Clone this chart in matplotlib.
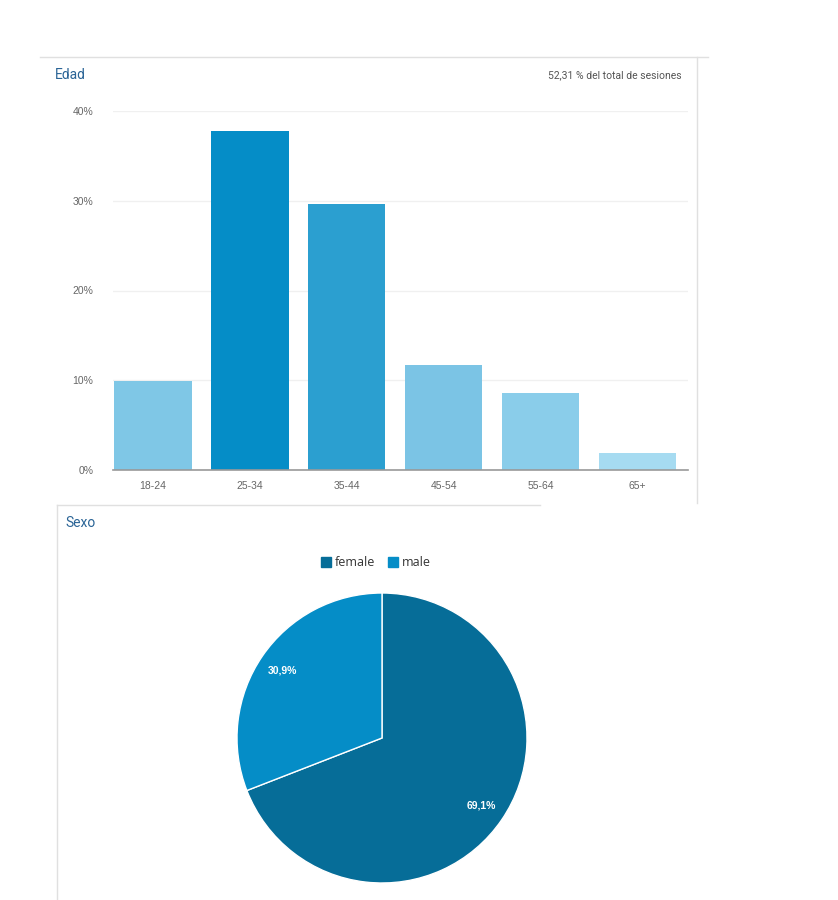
import matplotlib
matplotlib.use("Agg")
import matplotlib.pyplot as plt
from matplotlib.lines import Line2D
from matplotlib.patches import Patch

plt.rcParams['font.family'] = ['Roboto', 'DejaVu Sans']

age_groups = ["18-24", "25-34", "35-44", "45-54", "55-64", "65+"]
age_values = [9.9, 37.8, 29.6, 11.7, 8.6, 1.9]
age_colors = ["#7fc7e6", "#058dc7", "#2b9fd0", "#7bc4e5", "#8acdea", "#a6dbf1"]
y_ticks = [0, 10, 20, 30, 40]
y_tick_labels = ["0%", "10%", "20%", "30%", "40%"]

sex_labels = ["female", "male"]
sex_values = [69.1, 30.9]
sex_colors = ["#066d98", "#058dc7"]

W, H = 838, 900
fig = plt.figure(figsize=(W / 100, H / 100), dpi=100)
fig.patch.set_facecolor("white")

def fx(x):
    return x / W

def fy(y):
    return 1 - y / H

# panel borders
border = "#e0e0e0"
fig.add_artist(Line2D([fx(40), fx(708)], [fy(57), fy(57)], color=border, lw=1))
fig.add_artist(Line2D([fx(697), fx(697)], [fy(57), fy(503)], color=border, lw=1))
fig.add_artist(Line2D([fx(57), fx(540)], [fy(505), fy(505)], color=border, lw=1))
fig.add_artist(Line2D([fx(57), fx(57)], [fy(505), fy(900)], color=border, lw=1))

# titles
fig.text(fx(55), fy(75), "Edad", color="#2a6496", fontsize=10, va="center", ha="left")
fig.text(fx(682), fy(75), "52,31 % del total de sesiones", color="#555555",
         fontsize=7.5, va="center", ha="right")
fig.text(fx(65), fy(523), "Sexo", color="#2a6496", fontsize=10, va="center", ha="left")

tick_font = dict(family=["Liberation Sans", "DejaVu Sans"], size=7.5)

# bar chart
ax = fig.add_axes([fx(113), fy(470), fx(688) - fx(113), (470 - 111) / H])
x = list(range(len(age_groups)))
ax.bar(x, age_values, width=0.8, color=age_colors, zorder=2)
ax.set_xlim(-0.41, 5.52)
ax.set_ylim(0, 40)
ax.set_yticks(y_ticks)
ax.set_yticklabels(y_tick_labels, fontdict=tick_font)
ax.set_xticks(x)
ax.set_xticklabels(age_groups, fontdict=tick_font)
ax.tick_params(axis="both", length=0, labelcolor="#666666")
ax.tick_params(axis="y", pad=14)
ax.tick_params(axis="x", pad=8)
ax.grid(axis="y", color="#f0f0f0", lw=1, zorder=0)
for s in ["top", "right", "left"]:
    ax.spines[s].set_visible(False)
ax.spines["bottom"].set_color("#999999")
ax.spines["bottom"].set_linewidth(1.2)
ax.spines["bottom"].set_zorder(3)

# pie chart
pax = fig.add_axes([fx(237), fy(883), 290 / W, 290 / H])

def fmt(p):
    return ("%.1f%%" % p).replace(".", ",")

wedges, texts, autotexts = pax.pie(
    sex_values, colors=sex_colors, startangle=90, counterclock=False,
    autopct=fmt, pctdistance=0.83,
    wedgeprops=dict(edgecolor="white", linewidth=1),
    textprops=dict(color="white", fontsize=7.5, fontweight="bold",
                   family=["Liberation Sans", "DejaVu Sans"]))
pax.set_xlim(-1, 1)
pax.set_ylim(-1, 1)
pax.set_aspect("auto")
pax.axis("off")

handles = [Patch(facecolor=c, edgecolor=c, label=l) for c, l in zip(sex_colors, sex_labels)]
leg = fig.legend(handles=handles, loc="center", bbox_to_anchor=(fx(376), fy(563)),
                 ncol=2, frameon=False, handlelength=0.8, handleheight=0.8,
                 handletextpad=0.35, columnspacing=1.0,
                 prop=dict(family=["Open Sans", "DejaVu Sans"], size=9))
for t in leg.get_texts():
    t.set_color("#333333")

fig.savefig("out.png", dpi=100, facecolor="white")
